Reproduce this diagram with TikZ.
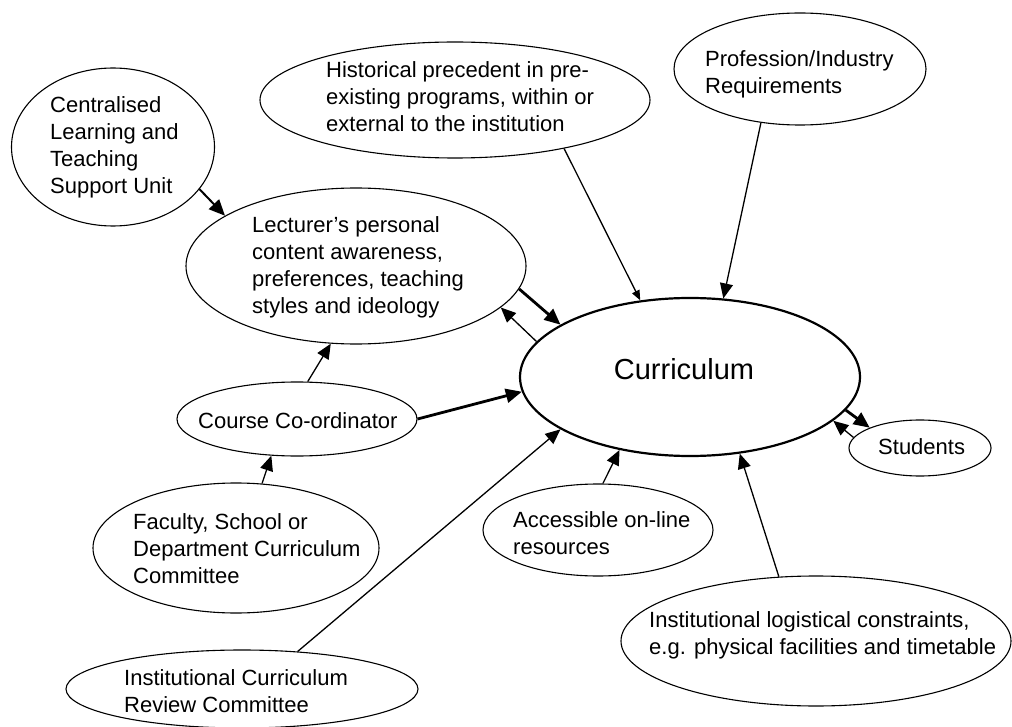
\documentclass[tikz,border=0pt]{standalone}
\usepackage{fontspec}
\setmainfont{Liberation Sans}[Ligatures=ResetAll]
\usetikzlibrary{arrows.meta,shapes.geometric}
\begin{document}
\begin{tikzpicture}[x=1pt,y=-1pt,
  oval/.style={ellipse, draw=black, line width=1.1pt, inner sep=0pt, fill=white},
  txt/.style={align=left, inner sep=0pt, anchor=west, font=\fontsize{22}{27}\selectfont},
  flow/.style={line width=1.3pt, -{Triangle[length=15pt,width=13pt]}},
  slim/.style={line width=1.3pt, -{Triangle[length=10pt,width=8pt]}},
  medium/.style={line width=2pt, -{Triangle[length=16pt,width=14pt]}},
  bold/.style={line width=2.8pt, -{Triangle[length=16pt,width=14pt]}}]
\useasboundingbox (0,0) rectangle (1012,727);

% influences, drawn as ellipses
\node[oval, minimum width=203pt, minimum height=158pt] (cent)   at (113,147) {};
\node[oval, minimum width=390pt, minimum height=116pt] (hist)   at (455,100) {};
\node[oval, minimum width=252pt, minimum height=112pt] (prof)   at (800,69)  {};
\node[oval, minimum width=340pt, minimum height=156pt] (lect)   at (356,266) {};
\node[oval, minimum width=240pt, minimum height=74pt]  (course) at (297,419) {};
\node[oval, minimum width=286pt, minimum height=130pt] (fac)    at (236,548) {};
\node[oval, minimum width=352pt, minimum height=78pt]  (rev)    at (242,689) {};
\node[oval, minimum width=230pt, minimum height=92pt]  (acc)    at (598,530) {};
\node[oval, minimum width=142pt, minimum height=56pt]  (stud)   at (920,448) {};
\node[oval, minimum width=390pt, minimum height=130pt] (logi)   at (816,641) {};
\node[oval, line width=2.2pt, minimum width=340pt, minimum height=158pt] (curr) at (690,377) {};

% labels
\node[txt] (centT)   at (50,147.5) {Centralised\\Learning and\\Teaching\\Support Unit};
\node[txt] (histT)   at (326,97)   {Historical precedent in pre-\\existing programs, within or\\external to the institution};
\node[txt] (profT)   at (705,74)   {Profession/Industry\\Requirements};
\node[txt] (lectT)   at (252,267)  {Lecturer's personal\\content awareness,\\preferences, teaching\\styles and ideology};
\node[txt] (courseT) at (198,421)  {Course Co-ordinator};
\node[txt] (facT)    at (133,549)  {Faculty, School or\\Department Curriculum\\Committee};
\node[txt] (revT)    at (124,691)  {Institutional Curriculum\\Review Committee};
\node[txt] (accT)    at (513,533)  {Accessible on-line\\resources};
\node[txt] (studT)   at (878,447)  {Students};
\node[txt] (logiT)   at (649,635)  {Institutional logistical constraints,\\e.g. physical facilities and timetable};
\node[inner sep=0pt, font=\fontsize{29}{34}\selectfont] (currT) at (684,369) {Curriculum};

% connectors
\draw[medium] (cent.-26) -- (lect.159);
\draw[slim] (hist.-24) -- (curr.123);
\draw[flow] (prof.-126) -- (curr.67);
\draw[bold] (lect.-8) -- (curr.158);
\draw[flow] (curr.167) -- (lect.-16);
\draw[flow] (course.74) -- (lect.-108);
\draw[bold] (course.0) -- (curr.185);
\draw[flow] (fac.68) -- (course.-125);
\draw[flow] (rev.34) -- (curr.-158);
\draw[flow] (acc.84) -- (curr.-134);
\draw[flow] (logi.120) -- (curr.-57);
\draw[bold] (curr.-12) -- (stud.158);
\draw[flow] (stud.171) -- (curr.-17);
\end{tikzpicture}
\end{document}
